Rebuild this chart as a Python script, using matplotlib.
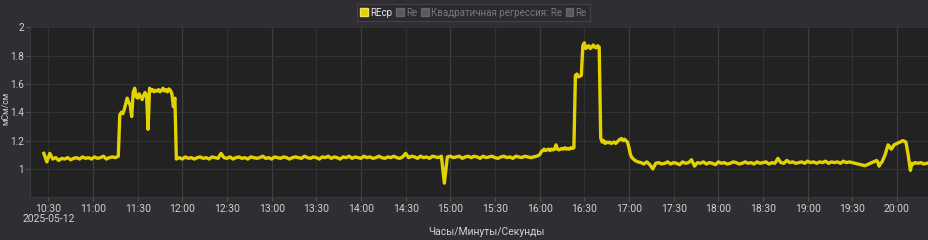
import matplotlib
matplotlib.use('Agg')
import matplotlib.pyplot as plt
import matplotlib.dates as mdates
from matplotlib.patches import Patch
from matplotlib.ticker import FuncFormatter
import numpy as np
import pandas as pd

plt.rcParams['font.family'] = ['Roboto', 'DejaVu Sans']

DAY = '2025-05-12'
legend_labels = ['REcp', 'Re', 'Квадратичная регрессия: Re', 'Re']
y_label = 'мСм/см'
x_label = 'Часы/Минуты/Секунды'
y_ticks = [1.0, 1.2, 1.4, 1.6, 1.8, 2.0]

# --- data: (start minute after 10:00, step in minutes, values) ---
seg_a_start, seg_a_step = 27, 2
seg_a = [1.11, 1.05, 1.11, 1.07, 1.08, 1.06, 1.075, 1.07, 1.08, 1.065,
         1.075, 1.08, 1.07, 1.085, 1.075, 1.08, 1.07, 1.085, 1.075, 1.08,
         1.09, 1.07, 1.08, 1.085, 1.08, 1.09]

seg_b_start, seg_b_step = 78, 1
seg_b = [1.38, 1.40, 1.39, 1.42, 1.46, 1.50, 1.47, 1.45, 1.37, 1.54,
         1.57, 1.51, 1.50, 1.53, 1.51, 1.49, 1.52, 1.54, 1.52, 1.28,
         1.57, 1.55, 1.56, 1.545, 1.555, 1.55, 1.56, 1.545, 1.555, 1.57,
         1.55, 1.56, 1.545, 1.565, 1.555, 1.53, 1.44, 1.50]

seg_c_start, seg_c_step = 116, 2
seg_c = [1.07, 1.08, 1.07, 1.085, 1.075, 1.08, 1.07, 1.08, 1.085, 1.075,
         1.08, 1.07, 1.085, 1.08, 1.075, 1.11, 1.08, 1.075, 1.085, 1.07,
         1.08, 1.085, 1.075, 1.08, 1.07, 1.085, 1.08, 1.075, 1.08, 1.09,
         1.075, 1.08, 1.07, 1.085, 1.08, 1.075, 1.085, 1.08, 1.07, 1.08,
         1.085, 1.08, 1.075, 1.09, 1.08, 1.075, 1.085, 1.08, 1.07, 1.085,
         1.08, 1.09, 1.075, 1.085, 1.08, 1.07, 1.085, 1.08, 1.09, 1.075,
         1.085, 1.08, 1.075, 1.09, 1.08, 1.085, 1.075, 1.08, 1.09, 1.08,
         1.075, 1.085, 1.08, 1.09, 1.08, 1.075, 1.085, 1.11, 1.08, 1.09,
         1.085, 1.075, 1.09, 1.08, 1.085, 1.075, 1.09, 1.085, 1.08, 1.09,
         0.90, 1.085, 1.09, 1.08, 1.085, 1.09, 1.075, 1.085, 1.09, 1.08,
         1.09, 1.085, 1.075, 1.09, 1.08, 1.085, 1.09, 1.08, 1.075, 1.085,
         1.09, 1.08, 1.085, 1.075, 1.09, 1.085, 1.08, 1.09, 1.085, 1.08,
         1.085, 1.09]

seg_d_start, seg_d_step = 360, 1
seg_d = [1.10, 1.12, 1.13, 1.14, 1.13, 1.135, 1.14, 1.13, 1.14, 1.135,
         1.14, 1.17, 1.14, 1.135, 1.14, 1.145, 1.14, 1.15, 1.14, 1.145,
         1.14, 1.15, 1.145, 1.15]

seg_e_start, seg_e_step = 384, 1
seg_e = [1.66, 1.67, 1.65, 1.655, 1.66,
         1.87, 1.89, 1.85, 1.86, 1.87, 1.85, 1.86, 1.875, 1.86, 1.855, 1.87, 1.86,
         1.22, 1.19, 1.20, 1.18, 1.19, 1.185, 1.19, 1.18, 1.185, 1.19, 1.18, 1.19,
         1.20, 1.21, 1.215, 1.20, 1.21, 1.20, 1.19,
         1.15, 1.10, 1.08, 1.07, 1.06, 1.055, 1.05]

seg_f_start, seg_f_step = 428, 2
seg_f = [1.045, 1.035, 1.05, 1.03, 1.00, 1.04, 1.045, 1.035, 1.04, 1.05,
         1.035, 1.045, 1.04, 1.03, 1.05, 1.04, 1.045, 1.065, 1.02, 1.045,
         1.04, 1.05, 1.035, 1.045, 1.04, 1.03, 1.05, 1.04, 1.045, 1.035,
         1.04, 1.05, 1.045, 1.035, 1.04, 1.05, 1.04, 1.045, 1.035, 1.05,
         1.04, 1.045, 1.05, 1.035, 1.045, 1.04, 1.075, 1.045, 1.04, 1.06,
         1.045, 1.05, 1.04, 1.045, 1.05, 1.04, 1.055, 1.045, 1.05, 1.04,
         1.05, 1.045, 1.055, 1.04, 1.05, 1.045, 1.05, 1.04, 1.055, 1.045,
         1.05]

seg_g_minutes = [578.5, 586.3, 587, 588, 589, 590, 592, 594, 595, 596, 597, 598,
                 600, 602, 604, 606, 607.5, 609, 610, 611, 612, 614, 616, 618, 620, 622]
seg_g = [1.023, 1.06, 1.05, 1.02, 1.04, 1.05, 1.10, 1.17, 1.16, 1.14, 1.15, 1.17,
         1.18, 1.19, 1.20, 1.19, 1.10, 0.99, 1.04, 1.035, 1.045, 1.04, 1.045, 1.035, 1.04, 1.045]

segments = [(seg_a_start, seg_a_step, seg_a), (seg_b_start, seg_b_step, seg_b),
            (seg_c_start, seg_c_step, seg_c), (seg_d_start, seg_d_step, seg_d),
            (seg_e_start, seg_e_step, seg_e), (seg_f_start, seg_f_step, seg_f)]
minutes = []
values = []
for start, step, vals in segments:
    minutes.extend(list(start + step * np.arange(len(vals))))
    values.extend(vals)
minutes.extend(seg_g_minutes)
values.extend(seg_g)

base = pd.Timestamp(DAY + ' 10:00')
times = base + pd.to_timedelta(np.array(minutes, dtype=float), unit='m')

# --- styling ---
FIG_BG = '#2e2e33'
AX_BG = '#222222'
TXT = '#d2d2d2'
YELLOW = '#e2d200'

W, H = 929, 240
fig = plt.figure(figsize=(W / 100, H / 100), dpi=100, facecolor=FIG_BG)
ax = fig.add_axes([30 / W, 1 - 197.3 / H, 1 - 30 / W, (197.3 - 27.3) / H])
ax.set_facecolor(AX_BG)

x0 = base + pd.Timedelta(minutes=17.7)
x1 = base + pd.Timedelta(minutes=621.5)
ax.set_xlim(x0, x1)
ax.set_ylim(0.8, 2.0)

ax.plot(times, values, color=YELLOW, lw=2.4, zorder=3)

# ticks every 30 minutes
tick_times = pd.date_range(DAY + ' 10:30', DAY + ' 20:00', freq='30min')
ax.set_xticks(tick_times)
ax.xaxis.set_major_formatter(mdates.DateFormatter('%H:%M'))
for t in tick_times:
    ax.axvline(t, color='#3d3d3d' if t.minute == 0 else '#303030', lw=0.9, zorder=1)
for yv in y_ticks:
    ax.axhline(yv, color='#333333', lw=0.8, zorder=1)

ax.set_yticks(y_ticks)
ax.yaxis.set_major_formatter(FuncFormatter(lambda v, p: ('%g' % round(v, 2))))
ax.tick_params(axis='both', colors='#555555', labelcolor=TXT, labelsize=7.5,
               length=3, width=0.8, pad=2)
ax.tick_params(axis='y', pad=1.5, labelsize=7.2)
for s in ax.spines.values():
    s.set_visible(False)
ax.spines['left'].set_visible(True)
ax.spines['bottom'].set_visible(True)
ax.spines['left'].set_color('#3a3a3a')
ax.spines['bottom'].set_color('#3a3a3a')

ax.text(mdates.date2num(tick_times[0]), -0.128, DAY, transform=ax.get_xaxis_transform(),
        ha='center', va='center', color=TXT, fontsize=7.5)

fig.text(5.5 / W, 1 - 108 / H, y_label, rotation=90, ha='center', va='center',
         color=TXT, fontsize=6.3)
fig.text(486 / W, 1 - 232 / H, x_label, ha='center', va='center', color=TXT, fontsize=7.5)

handles = [Patch(facecolor=YELLOW, edgecolor='#f0e060'),
           Patch(facecolor='#5a5a5a', edgecolor='#666666'),
           Patch(facecolor='#5a5a5a', edgecolor='#666666'),
           Patch(facecolor='#5a5a5a', edgecolor='#666666')]
leg = fig.legend(handles, legend_labels, loc='center', bbox_to_anchor=(473.5 / W, 1 - 12.5 / H),
                 ncol=4, fontsize=7, frameon=True, handlelength=0.8, handleheight=0.8,
                 handletextpad=0.2, columnspacing=0.4, borderpad=0.35, borderaxespad=0,
                 labelcolor=['#e8e8e8', '#7a7a7a', '#7a7a7a', '#7a7a7a'])
leg.get_frame().set_facecolor('#2a2a2e')
leg.get_frame().set_edgecolor('#4a4a4a')
leg.get_frame().set_linewidth(0.8)
leg.get_frame().set_boxstyle('square', pad=0)

fig.savefig('out.png', dpi=100, facecolor=FIG_BG)
